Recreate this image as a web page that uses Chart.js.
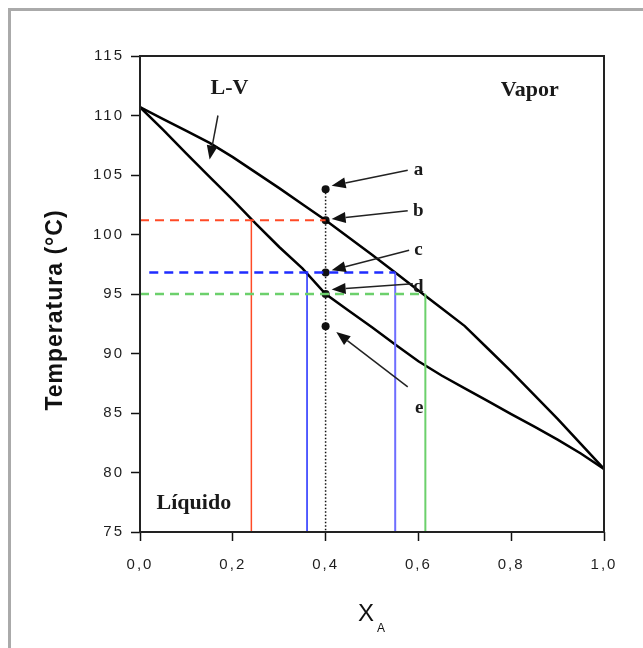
<!DOCTYPE html>
<html>
<head>
<meta charset="utf-8">
<script src="https://cdn.jsdelivr.net/npm/chart.js@4.4.0/dist/chart.umd.min.js"></script>
<style>
  body { margin: 0; background: #fff; }
  #box { position: absolute; left: 8px; top: 8px; width: 700px; height: 700px;
         border-left: 3px solid #aaa; border-top: 3px solid #aaa; }
  #wrap { position: absolute; left: 0; top: 0; width: 643px; height: 648px; }
</style>
</head>
<body>
<div id="box"></div>
<div id="wrap"><canvas id="chart1" width="643" height="648"></canvas></div>
<script>
// mole fraction of A and the two phase boundaries (°C)
var composition = [0, 0.05, 0.1, 0.15, 0.2, 0.25, 0.3, 0.35, 0.4, 0.45, 0.5,
  0.55, 0.6, 0.65, 0.7, 0.75, 0.8, 0.85, 0.9, 0.95, 1];
var dewTemp = [110.7, 109.7, 108.7, 107.7, 106.5, 105.2, 103.9, 102.55, 101.2, 99.75, 98.3,
  96.8, 95.3, 93.8, 92.3, 90.4, 88.5, 86.5, 84.5, 82.4, 80.3];
var bubbleTemp = [110.7, 108.8, 106.8, 104.85, 102.9, 100.9, 98.95, 97.15, 95.0, 93.6, 92.2,
  90.75, 89.35, 88.15, 87.07, 86.0, 84.9, 83.85, 82.76, 81.6, 80.3];

// tie lines: temperature, dashed span and the compositions dropped to the axis
var tieTemps = [101.2, 96.8, 95.0];
var tieFrom = [0, 0.02, 0];
var tieTo = [0.4, 0.55, 0.615];
var redDrops = [0.24];
var blueDrops = [0.36, 0.55];
var greenDrops = [0.615];

// overall composition and states a..e
var overallX = 0.4;
var stateNames = ["a", "b", "c", "d", "e"];
var stateTemps = [103.8, 101.2, 96.8, 95.0, 92.3];
var stateLabelPos = [[0.6, 105.4], [0.6, 102.0], [0.6, 98.7], [0.6, 95.6], [0.602, 85.4]];
var stateArrowTail = [[0.577, 105.4], [0.577, 102.0], [0.58, 98.67], [0.588, 95.87], [0.577, 87.2]];
var stateArrowHead = [[0.413, 104.1], [0.413, 101.3], [0.413, 97.0], [0.413, 95.37], [0.423, 91.8]];

// region names
var regionNames = ["L-V", "Vapor", "Líquido"];
var regionPos = [[0.193, 112.3], [0.84, 112.1], [0.116, 77.4]];
var lvArrowTail = [0.168, 110.0];
var lvArrowHead = [0.15, 106.3];

var xTicks = [0, 0.2, 0.4, 0.6, 0.8, 1.0];
var yTicks = [75, 80, 85, 90, 95, 100, 105, 110, 115];

var T_MIN = 75, T_MAX = 115;

function pts(xs, ys) {
  return xs.map(function (x, i) { return { x: x, y: ys[i] }; });
}

function vline(x, top, color, width) {
  return {
    data: [{ x: x, y: top }, { x: x, y: T_MIN }],
    showLine: true, borderColor: color, borderWidth: width,
    pointRadius: 0, fill: false,
  };
}

var tieColors = ["#ff4a26", "#1f2cff", "#6cd06c"];
var tieWidths = [2, 2.5, 2.5];
var datasets = [];

tieTemps.forEach(function (t, i) {
  datasets.push({
    data: [{ x: tieFrom[i], y: t }, { x: tieTo[i], y: t }],
    showLine: true, borderColor: tieColors[i], borderWidth: tieWidths[i],
    borderDash: [9, 6], pointRadius: 0, fill: false,
  });
});
redDrops.forEach(function (x) { datasets.push(vline(x, tieTemps[0], "#ff4a26", 1.5)); });
datasets.push(vline(blueDrops[0], tieTemps[1], "#1f2cff", 1.5));
datasets.push(vline(blueDrops[1], tieTemps[1], "#6e6eff", 2));
greenDrops.forEach(function (x) { datasets.push(vline(x, tieTemps[2], "#6cd06c", 2)); });

// vertical isopleth through the overall composition
datasets.push({
  data: [{ x: overallX, y: stateTemps[0] }, { x: overallX, y: T_MIN }],
  showLine: true, borderColor: "#111", borderWidth: 1.5,
  borderDash: [1.5, 2], pointRadius: 0, fill: false,
});

datasets.push({
  data: pts(composition, dewTemp),
  showLine: true, borderColor: "#000", borderWidth: 2.5,
  pointRadius: 0, fill: false,
});
datasets.push({
  data: pts(composition, bubbleTemp),
  showLine: true, borderColor: "#000", borderWidth: 2.5,
  pointRadius: 0, fill: false,
});

datasets.push({
  data: stateTemps.map(function (t) { return { x: overallX, y: t }; }),
  showLine: false, pointRadius: 4, pointBackgroundColor: "#111",
  pointBorderColor: "#111", pointBorderWidth: 0,
});

function arrow(ctx, x0, y0, x1, y1) {
  var ang = Math.atan2(y1 - y0, x1 - x0);
  var len = 14, half = 5.5;
  var bx = x1 - len * Math.cos(ang), by = y1 - len * Math.sin(ang);
  ctx.beginPath();
  ctx.moveTo(x0, y0);
  ctx.lineTo(bx, by);
  ctx.stroke();
  ctx.beginPath();
  ctx.moveTo(x1, y1);
  ctx.lineTo(bx + half * Math.sin(ang), by - half * Math.cos(ang));
  ctx.lineTo(bx - half * Math.sin(ang), by + half * Math.cos(ang));
  ctx.closePath();
  ctx.fill();
}

var annotations = {
  id: "annotations",
  beforeDraw: function (chart) {
    chart.ctx.letterSpacing = "2px";
  },
  afterDraw: function (chart) {
    var ctx = chart.ctx, xs = chart.scales.x, ys = chart.scales.y;
    var a = chart.chartArea;
    function px(p) { return [xs.getPixelForValue(p[0]), ys.getPixelForValue(p[1])]; }

    ctx.save();
    ctx.letterSpacing = "0px";

    // plot frame
    ctx.strokeStyle = "#222";
    ctx.lineWidth = 2;
    ctx.strokeRect(a.left, a.top, a.right - a.left, a.bottom - a.top);

    // state arrows and letters
    ctx.strokeStyle = "#222";
    ctx.fillStyle = "#111";
    ctx.lineWidth = 1.5;
    stateNames.forEach(function (n, i) {
      var t = px(stateArrowTail[i]), h = px(stateArrowHead[i]);
      arrow(ctx, t[0], t[1], h[0], h[1]);
    });
    var lt = px(lvArrowTail), lh = px(lvArrowHead);
    arrow(ctx, lt[0], lt[1], lh[0], lh[1]);

    ctx.textAlign = "center";
    ctx.textBaseline = "middle";
    ctx.fillStyle = "#1a1a1a";
    ctx.font = "bold 19px 'Liberation Serif'";
    stateNames.forEach(function (n, i) {
      var p = px(stateLabelPos[i]);
      ctx.fillText(n, p[0], p[1]);
    });

    ctx.font = "bold 22px 'Liberation Serif'";
    regionNames.forEach(function (n, i) {
      var p = px(regionPos[i]);
      ctx.fillText(n, p[0], p[1]);
    });

    // axis titles
    ctx.fillStyle = "#111";
    ctx.font = "bold 23px 'Liberation Sans'";
    ctx.letterSpacing = "1px";
    ctx.save();
    ctx.translate(56, 310);
    ctx.rotate(-Math.PI / 2);
    ctx.fillText("Temperatura (°C)", 0, 0);
    ctx.restore();

    ctx.letterSpacing = "0px";
    ctx.textAlign = "left";
    ctx.textBaseline = "alphabetic";
    ctx.font = "24px 'Liberation Sans'";
    ctx.fillText("X", 358, 621);
    ctx.font = "12px 'Liberation Sans'";
    ctx.fillText("A", 377, 632);
    ctx.restore();
  },
};

var ctx = document.getElementById("chart1").getContext("2d");
var myChart = new Chart(ctx, {
  type: "scatter",
  data: { datasets: datasets },
  options: {
    responsive: false,
    animation: false,
    layout: { padding: { left: 0, top: 56, right: 39, bottom: 0 } },
    plugins: {
      legend: { display: false },
      tooltip: { enabled: false },
    },
    scales: {
      x: {
        type: "linear",
        min: 0,
        max: 1,
        afterBuildTicks: function (s) { s.ticks = xTicks.map(function (v) { return { value: v }; }); },
        afterFit: function (s) { s.height = 116; },
        grid: { drawOnChartArea: false, drawTicks: true, tickLength: 9, tickWidth: 1.5, tickColor: "#111" },
        border: { display: false },
        ticks: {
          padding: 15,
          color: "#1e1e1e",
          font: { family: "'Liberation Sans'", size: 15 },
          maxRotation: 0,
          callback: function (v) { return v.toFixed(1).replace(".", ","); },
        },
      },
      y: {
        type: "linear",
        min: T_MIN,
        max: T_MAX,
        afterBuildTicks: function (s) { s.ticks = yTicks.map(function (v) { return { value: v }; }); },
        afterFit: function (s) { s.width = 140; },
        grid: { drawOnChartArea: false, drawTicks: true, tickLength: 9, tickWidth: 1.5, tickColor: "#111" },
        border: { display: false },
        ticks: {
          padding: 7,
          color: "#1e1e1e",
          font: { family: "'Liberation Sans'", size: 15 },
        },
      },
    },
  },
  plugins: [annotations],
});
</script>
</body>
</html>
